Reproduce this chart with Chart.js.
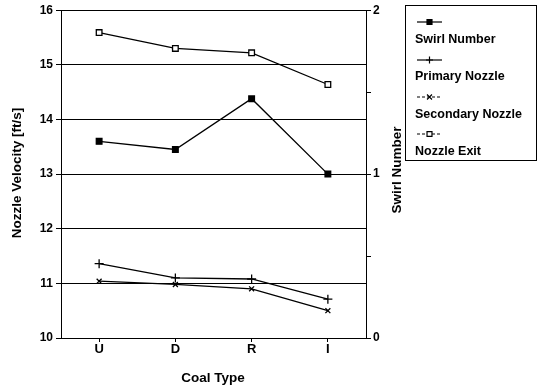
<!DOCTYPE html>
<html><head><meta charset="utf-8">
<script src="https://cdn.jsdelivr.net/npm/chart.js@4"></script>
<style>html,body{margin:0;padding:0;background:#fff}#wrap{width:540px;height:390px}</style>
</head><body><div id="wrap"><canvas id="c" width="540" height="390"></canvas></div>
<script>
const categories = ['U', 'D', 'R', 'I'];
const swirlNumber = [1.20, 1.15, 1.46, 1.00];
const primaryNozzle = [11.36, 11.10, 11.08, 10.71];
const secondaryNozzle = [11.04, 10.98, 10.90, 10.50];
const nozzleExit = [15.59, 15.30, 15.22, 14.64];
const leftTicks = [10, 11, 12, 13, 14, 15, 16];
const rightTicks = [0, 0.5, 1, 1.5, 2];
const rightLabels = ['0', '', '1', '', '2'];
const seriesNames = ['Swirl Number', 'Primary Nozzle', 'Secondary Nozzle', 'Nozzle Exit'];

const FONT = '"Liberation Sans", Arial, sans-serif';

const titlesAndLegend = {
  id: 'titlesAndLegend',
  afterDraw(chart) {
    const ctx = chart.ctx;
    const fills = ['#000', '#000', '#000', '#fff'];
    const ds = chart.data.datasets;
    ctx.save();
    ctx.fillStyle = '#000';
    ctx.font = 'bold 13.5px ' + FONT;
    ctx.textAlign = 'center';
    ctx.textBaseline = 'middle';
    ctx.save(); ctx.translate(17, 173); ctx.rotate(-Math.PI / 2); ctx.fillText('Nozzle Velocity [ft/s]', 0, 0); ctx.restore();
    ctx.save(); ctx.translate(397, 170); ctx.rotate(-Math.PI / 2); ctx.fillText('Swirl Number', 0, 0); ctx.restore();
    ctx.fillText('Coal Type', 213, 378);
    ctx.strokeStyle = '#000'; ctx.lineWidth = 1;
    ctx.strokeRect(405.5, 5.5, 131, 155);
    const sampleY = [22, 60, 97, 134];
    const textY = [40, 77, 115, 152];
    const dashes = [[], [], [3, 2], [3, 2]];
    ds.forEach((d, i) => {
      ctx.save();
      ctx.setLineDash(dashes[i]);
      ctx.lineWidth = 1.2; ctx.strokeStyle = '#000';
      ctx.beginPath(); ctx.moveTo(417, sampleY[i]); ctx.lineTo(442, sampleY[i]); ctx.stroke();
      ctx.restore();
      ctx.save();
      ctx.fillStyle = fills[i]; ctx.strokeStyle = '#000'; ctx.lineWidth = 1.2;
      Chart.helpers.drawPoint(ctx, { pointStyle: d.pointStyle, radius: 3.5, borderWidth: 1.2, rotation: 0 }, 429.5, sampleY[i]);
      ctx.restore();
      ctx.textAlign = 'left';
      ctx.font = 'bold 12.5px ' + FONT;
      ctx.fillStyle = '#000';
      ctx.fillText(seriesNames[i], 415, textY[i]);
    });
    ctx.restore();
  }
};

new Chart(document.getElementById('c'), {
  type: 'line',
  data: {
    labels: categories,
    datasets: [
      { label: seriesNames[0], data: swirlNumber, yAxisID: 'y2', pointStyle: 'rect', pointRadius: 4,
        backgroundColor: '#000', borderColor: '#000', pointBackgroundColor: '#000', borderWidth: 1.3 },
      { label: seriesNames[1], data: primaryNozzle, yAxisID: 'y', pointStyle: 'cross', pointRadius: 4.5,
        backgroundColor: '#000', borderColor: '#000', borderWidth: 1.3 },
      { label: seriesNames[2], data: secondaryNozzle, yAxisID: 'y', pointStyle: 'crossRot', pointRadius: 3.5,
        backgroundColor: '#000', borderColor: '#000', borderWidth: 1.3 },
      { label: seriesNames[3], data: nozzleExit, yAxisID: 'y', pointStyle: 'rect', pointRadius: 4,
        backgroundColor: '#fff', borderColor: '#000', pointBackgroundColor: '#fff', borderWidth: 1.3 }
    ]
  },
  options: {
    responsive: false,
    animation: false,
    layout: { padding: { top: 8, left: 0, right: 0, bottom: 0 } },
    plugins: { legend: { display: false }, tooltip: { enabled: false } },
    elements: { line: { tension: 0 } },
    scales: {
      x: {
        offset: true,
        grid: { display: true, drawOnChartArea: false, drawTicks: true, tickLength: 4, color: '#000', offset: false },
        border: { display: true, color: '#000', width: 1 },
        ticks: { color: '#000', font: { family: FONT, size: 13, weight: 'bold' }, padding: 0 },
        afterFit(s) { s.height = 52; }
      },
      y: {
        position: 'left', min: 10, max: 16,
        afterBuildTicks(s) { s.ticks = leftTicks.map(v => ({ value: v })); },
        grid: { color: '#000', lineWidth: 1, drawTicks: true, tickLength: 5 },
        border: { display: true, color: '#000', width: 1 },
        ticks: { color: '#000', font: { family: FONT, size: 12, weight: 'bold' }, padding: 3 },
        afterFit(s) { s.width = 61; }
      },
      y2: {
        position: 'right', min: 0, max: 2,
        afterBuildTicks(s) { s.ticks = rightTicks.map(v => ({ value: v })); },
        grid: { drawOnChartArea: false, drawTicks: true, tickLength: 5, color: '#000' },
        border: { display: true, color: '#000', width: 1 },
        ticks: { color: '#000', font: { family: FONT, size: 12, weight: 'bold' }, padding: 2,
          callback: (v) => rightLabels[rightTicks.indexOf(v)] },
        afterFit(s) { s.width = 174; }
      }
    }
  },
  plugins: [titlesAndLegend]
});
</script></body></html>
